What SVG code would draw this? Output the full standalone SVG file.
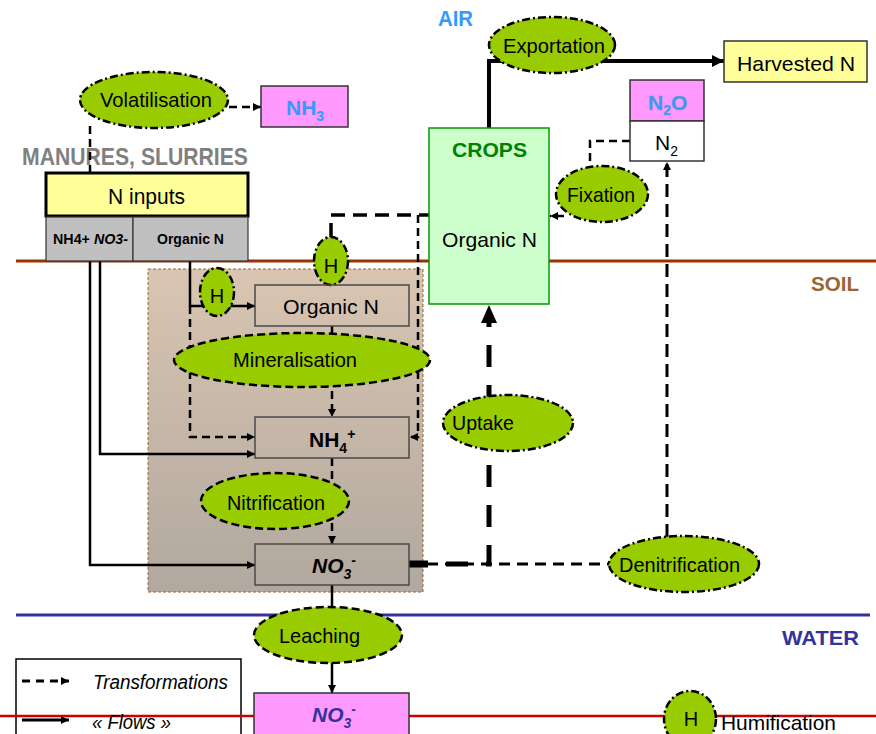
<svg xmlns="http://www.w3.org/2000/svg" width="876" height="734" viewBox="0 0 876 734">
<defs>
<linearGradient id="soilg" x1="0" y1="0" x2="0" y2="1">
<stop offset="0" stop-color="#D9C5B1"/>
<stop offset="1" stop-color="#B1A89F"/>
</linearGradient>
<marker id="ah" viewBox="0 0 10 10" refX="10" refY="5" markerWidth="8" markerHeight="8" markerUnits="userSpaceOnUse" orient="auto"><path d="M0,0 L10,5 L0,10 z" fill="#000"/></marker>
<marker id="ahb" viewBox="0 0 10 10" refX="10" refY="5" markerWidth="12" markerHeight="12" markerUnits="userSpaceOnUse" orient="auto"><path d="M0,0 L10,5 L0,10 z" fill="#000"/></marker>
</defs>
<style>
text{font-family:"Liberation Sans",Arial,sans-serif;fill:#000}
.lbl{font-size:21px}
.ell{fill:#99CC00;stroke:#000;stroke-width:2.5}
.dd{stroke-dasharray:8 3 2 3}
.ds{stroke-dasharray:8 4}
.tr{fill:none;stroke:#000;stroke-width:2.5;stroke-dasharray:8 5}
.fl{fill:none;stroke:#000;stroke-width:2.5}
.sbox{fill:none;stroke:#4a4a4a;stroke-width:1.5}
.b{font-weight:bold}
</style>

<!-- boundary lines -->
<g id="boundaries">
<line x1="16" y1="261" x2="876" y2="261" stroke="#993300" stroke-width="3"/>
<line x1="16" y1="615" x2="870" y2="615" stroke="#333399" stroke-width="3"/>
</g>
<text x="438" y="26" font-size="22" class="b" style="fill:#3399FF" textLength="35" lengthAdjust="spacingAndGlyphs">AIR</text>
<text x="811" y="291" font-size="21" class="b" style="fill:#996633" textLength="48" lengthAdjust="spacingAndGlyphs">SOIL</text>
<text x="782" y="645" font-size="21" class="b" style="fill:#333399" textLength="77" lengthAdjust="spacingAndGlyphs">WATER</text>
<text x="22" y="165" font-size="23" class="b" style="fill:#808080" textLength="226" lengthAdjust="spacingAndGlyphs">MANURES, SLURRIES</text>

<!-- soil compartment -->
<g id="soil-region">
<rect x="148" y="269" width="275" height="323" fill="url(#soilg)" stroke="#996633" stroke-width="1" stroke-dasharray="3 2"/>
</g>

<!-- connectors -->
<g id="connectors">
<path class="tr" d="M90,173 V124"/>
<path class="tr" d="M229,107 H261" marker-end="url(#ah)"/>
<path d="M489,128 V61 H724" fill="none" stroke="#000" stroke-width="4" marker-end="url(#ahb)"/>
<path class="tr" d="M630,141 H590 V166"/>
<path class="tr" d="M564,216 H550" marker-end="url(#ah)"/>
<path d="M667,537 V162" fill="none" stroke="#000" stroke-width="3" stroke-dasharray="13 7" marker-end="url(#ah)"/>
<path d="M409,564 H610" fill="none" stroke="#000" stroke-width="3" stroke-dasharray="11 7"/>
<line x1="409" y1="564" x2="428" y2="564" stroke="#000" stroke-width="7"/>
<path d="M446,564 H489 V323" fill="none" stroke="#000" stroke-width="5" stroke-dasharray="22 18"/>
<polygon points="489,305 497,323 481,323" fill="#000"/>
<path d="M331,237 V215 H429" fill="none" stroke="#000" stroke-width="3.5" stroke-dasharray="14 8"/>
<path class="tr" d="M418,215 V437 H410" marker-end="url(#ah)"/>
<path class="fl" d="M190,261 V306 H255" marker-end="url(#ah)"/>
<path class="tr" d="M190,306 V437 H255" marker-end="url(#ah)"/>
<path class="fl" d="M100,261 V454 H255" marker-end="url(#ah)"/>
<path class="fl" d="M90,261 V565 H255" marker-end="url(#ah)"/>
<path class="tr" d="M332,326 V417" marker-end="url(#ah)"/>
<path class="tr" d="M332,458 V544" marker-end="url(#ah)"/>
<path class="fl" d="M332,585 V608"/>
<path class="fl" d="M332,662 V693" marker-end="url(#ah)"/>
</g>

<!-- nodes -->
<g id="n-inputs">
<rect x="46" y="173" width="202" height="43" fill="#FFFF99" stroke="#000" stroke-width="3"/>
<text x="108" y="204" font-size="22" textLength="77" lengthAdjust="spacingAndGlyphs">N inputs</text>
</g>
<g id="input-mineral">
<rect x="46" y="217" width="87" height="44" fill="#C0C0C0" stroke="#333" stroke-width="1.2"/>
<text x="53" y="244" font-size="15" class="b" textLength="75" lengthAdjust="spacingAndGlyphs">NH4+ <tspan font-style="italic">NO3-</tspan></text>
</g>
<g id="input-organic">
<rect x="133" y="217" width="115" height="44" fill="#C0C0C0" stroke="#333" stroke-width="1.2"/>
<text x="157" y="244" font-size="15" class="b" textLength="67" lengthAdjust="spacingAndGlyphs">Organic N</text>
</g>
<g id="volatilisation">
<ellipse cx="154" cy="100" rx="74" ry="28" class="ell dd"/>
<text x="100" y="107" class="lbl" textLength="112" lengthAdjust="spacingAndGlyphs">Volatilisation</text>
</g>
<g id="nh3">
<rect x="261" y="86" width="87" height="41" fill="#FF99FF" stroke="#333" stroke-width="1.5"/>
<text x="286" y="115" font-size="21" class="b" style="fill:#3399FF">NH<tspan font-size="14" dy="6">3</tspan></text>
</g>
<g id="crops">
<rect x="429" y="128" width="120" height="176" fill="#CCFFCC" stroke="#009900" stroke-width="1.5"/>
<text x="452" y="157" font-size="21" class="b" style="fill:#008000" textLength="75" lengthAdjust="spacingAndGlyphs">CROPS</text>
<text x="442" y="247" class="lbl" textLength="95" lengthAdjust="spacingAndGlyphs">Organic N</text>
</g>
<g id="exportation">
<ellipse cx="552" cy="45" rx="63" ry="28" class="ell dd"/>
<text x="503" y="53" class="lbl" textLength="102" lengthAdjust="spacingAndGlyphs">Exportation</text>
</g>
<g id="harvested">
<rect x="724" y="41" width="143" height="41" fill="#FFFF99" stroke="#333" stroke-width="1.5"/>
<text x="737" y="71" class="lbl" textLength="118" lengthAdjust="spacingAndGlyphs">Harvested N</text>
</g>
<g id="n2o-n2">
<rect x="630" y="80" width="74" height="41" fill="#FF99FF" stroke="#333" stroke-width="1.5"/>
<rect x="630" y="121" width="74" height="40" fill="#FFFFFF" stroke="#333" stroke-width="1.5"/>
<text x="648" y="110" font-size="21" class="b" style="fill:#3399FF;stroke:#7a9ab8;stroke-width:0.4">N<tspan font-size="14" dy="5">2</tspan><tspan dy="-5">O</tspan></text>
<text x="655" y="150" font-size="21">N<tspan font-size="14" dy="6">2</tspan></text>
</g>
<g id="fixation">
<ellipse cx="602" cy="194" rx="46" ry="28" class="ell dd"/>
<text x="567" y="202" class="lbl" textLength="68" lengthAdjust="spacingAndGlyphs">Fixation</text>
</g>
<g id="h-crops">
<ellipse cx="331" cy="261" rx="17" ry="24" class="ell dd"/>
<text x="331" y="273" font-size="20" text-anchor="middle">H</text>
</g>
<g id="h-inputs">
<ellipse cx="217" cy="292" rx="17" ry="24" class="ell dd"/>
<text x="217" y="303" font-size="20" text-anchor="middle">H</text>
</g>
<g id="soil-organic">
<rect x="255" y="285" width="154" height="41" class="sbox"/>
<text x="283" y="314" class="lbl" textLength="96" lengthAdjust="spacingAndGlyphs">Organic N</text>
</g>
<g id="mineralisation">
<ellipse cx="302" cy="360" rx="128" ry="27" class="ell ds"/>
<text x="233" y="367" class="lbl" textLength="124" lengthAdjust="spacingAndGlyphs">Mineralisation</text>
</g>
<g id="soil-nh4">
<rect x="255" y="417" width="154" height="41" class="sbox"/>
<text x="309" y="447" font-size="21" class="b">NH<tspan font-size="14" dy="6">4</tspan><tspan font-size="14" dy="-14">+</tspan></text>
</g>
<g id="nitrification">
<ellipse cx="275" cy="501" rx="74" ry="28" class="ell ds"/>
<text x="227" y="510" class="lbl" textLength="98" lengthAdjust="spacingAndGlyphs">Nitrification</text>
</g>
<g id="soil-no3">
<rect x="255" y="544" width="154" height="41" class="sbox"/>
<text x="312" y="573" font-size="21" class="b" font-style="italic">NO<tspan font-size="14" dy="6">3</tspan><tspan font-size="14" dy="-14">-</tspan></text>
</g>
<g id="uptake">
<ellipse cx="508" cy="423" rx="65" ry="28" class="ell dd"/>
<text x="452" y="430" class="lbl" textLength="62" lengthAdjust="spacingAndGlyphs">Uptake</text>
</g>
<g id="denitrification">
<ellipse cx="684" cy="564" rx="75" ry="28" class="ell dd"/>
<text x="619" y="572" class="lbl" textLength="121" lengthAdjust="spacingAndGlyphs">Denitrification</text>
</g>
<g id="leaching">
<ellipse cx="328" cy="635" rx="74" ry="28" class="ell ds"/>
<text x="279" y="643" class="lbl" textLength="81" lengthAdjust="spacingAndGlyphs">Leaching</text>
</g>
<g id="legend">
<rect x="16" y="659" width="225" height="90" fill="#FFFFFF" stroke="#000" stroke-width="1.5"/>
<path d="M22,681 H69" fill="none" stroke="#000" stroke-width="3" stroke-dasharray="8 6" marker-end="url(#ah)"/>
<text x="93" y="689" font-size="20" font-style="italic" textLength="135" lengthAdjust="spacingAndGlyphs">Transformations</text>
</g>
<g id="water-line">
<line x1="0" y1="716" x2="876" y2="716" stroke="#CC0000" stroke-width="2.5"/>
</g>
<g id="legend-flows">
<path d="M22,720 H69" fill="none" stroke="#000" stroke-width="3" marker-end="url(#ah)"/>
<text x="92" y="729" font-size="20" font-style="italic" textLength="79" lengthAdjust="spacingAndGlyphs">« Flows »</text>
</g>
<g id="water-no3">
<rect x="254" y="693" width="155" height="60" fill="#FF99FF" stroke="#333" stroke-width="1.5"/>
<text x="312" y="722" font-size="21" class="b" font-style="italic" style="fill:#333399">NO<tspan font-size="14" dy="6">3</tspan><tspan font-size="14" dy="-14">-</tspan></text>
</g>
<g id="legend-humification">
<ellipse cx="690" cy="719" rx="26" ry="28" class="ell dd"/>
<text x="691" y="726" font-size="20" text-anchor="middle">H</text>
<text x="721" y="730" class="lbl" textLength="115" lengthAdjust="spacingAndGlyphs">Humification</text>
</g>
</svg>
